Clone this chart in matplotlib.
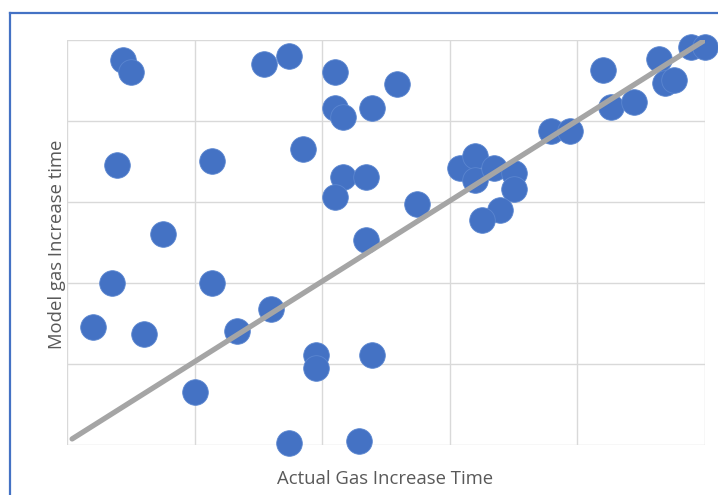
import matplotlib
matplotlib.use("Agg")
import matplotlib.pyplot as plt
from matplotlib.lines import Line2D

# actual vs model gas increase time (arbitrary units 0-50)
actual = [4.4, 5.0, 15.4, 17.4, 21.0, 21.0, 21.6, 23.9, 25.9,
          3.9, 11.4, 18.5, 21.6, 21.0, 23.4, 7.5, 23.4, 27.4,
          3.5, 11.4, 2.0, 6.0, 13.3, 16.0, 19.5, 19.5, 23.9,
          10.0, 17.4, 22.9,
          30.8, 32.0, 32.0, 33.5, 35.0, 35.0, 33.9, 32.5,
          37.9, 39.4, 42.0, 42.6, 44.4, 46.4, 46.9, 47.6, 48.9, 50.0]
model = [47.5, 46.0, 47.0, 48.0, 46.0, 41.6, 40.5, 41.6, 44.6,
         34.6, 35.1, 36.5, 33.1, 30.6, 33.1, 26.0, 25.3, 29.8,
         20.0, 20.0, 14.6, 13.7, 14.1, 16.8, 11.1, 9.5, 11.1,
         6.5, 0.25, 0.5,
         34.2, 35.7, 32.7, 34.2, 33.6, 31.6, 29.0, 27.8,
         38.8, 38.8, 46.3, 41.7, 42.3, 47.7, 44.7, 45.1, 49.1, 49.1]

# trend line end points
line_x = [0.4, 50]
line_y = [0.75, 50]

blue = '#4472C4'
grey_txt = '#595959'

fig = plt.figure(figsize=(7.18, 4.95), dpi=100)
ax = fig.add_axes([67/718, 50/495, 638/718, 405/495])

ax.plot(line_x, line_y, color='#A5A5A5', lw=3.8, solid_capstyle='round', zorder=3)
ax.scatter(actual, model, s=340, color=blue, edgecolors='#5B86D0', linewidths=0.6,
           zorder=2, clip_on=False)

ax.set_xlim(0, 50)
ax.set_ylim(0, 50)
ax.set_xticks(range(0, 51, 10))
ax.set_yticks(range(0, 51, 10))
ax.tick_params(length=0, labelbottom=False, labelleft=False)
ax.grid(True, color='#D9D9D9', lw=1.0, zorder=0)
ax.set_axisbelow(True)
for sp in ax.spines.values():
    sp.set_visible(False)

# axis titles placed where they sit in the original
fig.text(385/718, 1 - 479/495, 'Actual Gas Increase Time', fontsize=13.3,
         color=grey_txt, family='Open Sans', ha='center', va='center')
fig.text(57/718, 1 - 244/495, 'Model gas Increase time', fontsize=13.3,
         color=grey_txt, family='Open Sans', ha='center', va='center', rotation=90)

# chart frame (only left and top edges visible in the crop)
fig.add_artist(Line2D([9.5/718, 9.5/718], [0, 1 - 13/495], color=blue, lw=1.6))
fig.add_artist(Line2D([9.5/718, 1], [1 - 13/495, 1 - 13/495], color=blue, lw=1.6))

fig.savefig('out.png', dpi=100)
